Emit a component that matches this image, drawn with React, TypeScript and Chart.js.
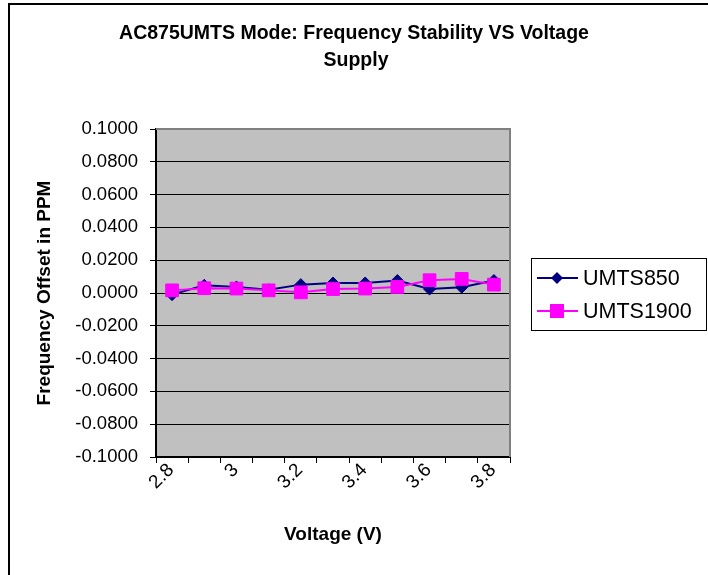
import React, { useEffect, useRef } from 'react';
import { Chart, registerables } from 'chart.js';

Chart.register(...registerables);

const voltages = ['2.8', '2.9', '3', '3.1', '3.2', '3.3', '3.4', '3.5', '3.6', '3.7', '3.8'];
const umts850 = [-0.001, 0.0047, 0.0037, 0.002, 0.0051, 0.0061, 0.0061, 0.0076, 0.0024, 0.0035, 0.0076];
const umts1900 = [0.0016, 0.0029, 0.0027, 0.0016, 0.0004, 0.0024, 0.0027, 0.0037, 0.0078, 0.0086, 0.0051];
const yMin = -0.1;
const yMax = 0.1;
const yStep = 0.02;
const titleLines = ['AC875UMTS Mode: Frequency Stability VS Voltage', 'Supply'];
const xTitle = 'Voltage (V)';
const yTitle = 'Frequency Offset in PPM';
const seriesNames = ['UMTS850', 'UMTS1900'];

const FONT = '"Liberation Sans", Arial, sans-serif';
const NAVY = '#000080';
const MAGENTA = '#FF00FF';

const decorPlugin = {
  id: 'decor',
  beforeDraw(chart: any) {
    const { ctx, chartArea: a, width, height } = chart;
    ctx.save();
    ctx.fillStyle = '#ffffff';
    ctx.fillRect(0, 0, width, height);
    ctx.strokeStyle = '#000000';
    ctx.lineWidth = 2;
    ctx.beginPath();
    ctx.moveTo(9, height);
    ctx.lineTo(9, 4);
    ctx.lineTo(width, 4);
    ctx.stroke();
    ctx.fillStyle = '#C0C0C0';
    ctx.fillRect(a.left, a.top, a.right - a.left, a.bottom - a.top);
    ctx.restore();
  },
  beforeDatasetsDraw(chart: any) {
    const { ctx, chartArea: a } = chart;
    ctx.save();
    ctx.strokeStyle = '#808080';
    ctx.lineWidth = 2;
    ctx.beginPath();
    ctx.moveTo(a.left, a.top);
    ctx.lineTo(a.right, a.top);
    ctx.lineTo(a.right, a.bottom);
    ctx.stroke();
    ctx.restore();
  },
  afterDraw(chart: any) {
    const { ctx, chartArea: a } = chart;
    ctx.save();
    ctx.fillStyle = '#000000';
    ctx.textAlign = 'center';
    ctx.textBaseline = 'middle';
    ctx.font = `bold 19.5px ${FONT}`;
    ctx.fillText(titleLines[0], 354, 34);
    ctx.fillText(titleLines[1], 356, 61);
    ctx.font = `bold 19px ${FONT}`;
    ctx.fillText(xTitle, (a.left + a.right) / 2, 535);
    ctx.save();
    ctx.translate(45, (a.top + a.bottom) / 2);
    ctx.rotate(-Math.PI / 2);
    ctx.fillText(yTitle, 0, 0);
    ctx.restore();

    const lx = 531.5, ly = 258.5, lw = 175, lh = 72;
    ctx.strokeStyle = '#000000';
    ctx.lineWidth = 1;
    ctx.strokeRect(lx, ly, lw, lh);
    const rows = [278, 311];
    const colors = [NAVY, MAGENTA];
    ctx.font = `21.5px ${FONT}`;
    ctx.textAlign = 'left';
    rows.forEach((y, i) => {
      ctx.strokeStyle = colors[i];
      ctx.lineWidth = 2;
      ctx.beginPath();
      ctx.moveTo(537, y);
      ctx.lineTo(578, y);
      ctx.stroke();
      ctx.fillStyle = colors[i];
      ctx.beginPath();
      if (i === 0) {
        ctx.moveTo(557, y - 6);
        ctx.lineTo(563, y);
        ctx.lineTo(557, y + 6);
        ctx.lineTo(551, y);
        ctx.closePath();
      } else {
        ctx.rect(550, y - 7, 14, 14);
      }
      ctx.fill();
      ctx.fillStyle = '#000000';
      ctx.fillText(seriesNames[i], 583, y + 1);
    });
    ctx.restore();
  },
};

export default function App() {
  const ref = useRef<HTMLCanvasElement | null>(null);

  useEffect(() => {
    if (!ref.current) return;
    const chart = new Chart(ref.current, {
      type: 'line',
      data: {
        labels: voltages,
        datasets: [
          {
            label: seriesNames[0],
            data: umts850,
            borderColor: NAVY,
            backgroundColor: NAVY,
            borderWidth: 2,
            pointStyle: 'rectRot',
            pointRadius: 6,
            pointBorderWidth: 1,
            pointBorderColor: NAVY,
            pointBackgroundColor: NAVY,
            tension: 0,
            order: 2,
          },
          {
            label: seriesNames[1],
            data: umts1900,
            borderColor: MAGENTA,
            backgroundColor: MAGENTA,
            borderWidth: 2,
            pointStyle: 'rect',
            pointRadius: 9,
            pointBorderWidth: 1,
            pointBorderColor: MAGENTA,
            pointBackgroundColor: MAGENTA,
            tension: 0,
            order: 1,
          },
        ],
      },
      options: {
        responsive: false,
        animation: false,
        devicePixelRatio: 1,
        layout: { padding: { left: 0, top: 129, right: 198, bottom: 0 } },
        plugins: {
          legend: { display: false },
          title: { display: false },
          tooltip: { enabled: false },
        },
        scales: {
          x: {
            type: 'category',
            offset: true,
            grid: {
              offset: true,
              drawOnChartArea: false,
              drawTicks: true,
              tickLength: 6,
              tickColor: '#000000',
              lineWidth: 1,
            },
            border: { display: true, color: '#000000', width: 2 },
            ticks: {
              autoSkip: false,
              maxRotation: 45,
              minRotation: 45,
              padding: -4,
              labelOffset: -1,
              color: '#000000',
              font: { family: FONT, size: 19 },
              callback: (_v: any, i: number) => (i % 2 === 0 ? voltages[i] : ''),
            },
            afterFit: (s: any) => {
              s.height = 575 - 457;
            },
          },
          y: {
            min: yMin,
            max: yMax,
            grid: {
              color: '#000000',
              lineWidth: 1,
              drawTicks: true,
              tickLength: 6,
              tickColor: '#000000',
            },
            border: { display: true, color: '#000000', width: 2 },
            ticks: {
              stepSize: yStep,
              padding: 12,
              color: '#000000',
              font: { family: FONT, size: 18.5 },
              callback: (v: any) => (Math.abs(v) < 1e-9 ? 0 : Number(v)).toFixed(4),
            },
            afterFit: (s: any) => {
              s.width = 156;
            },
          },
        },
      },
      plugins: [decorPlugin],
    });
    return () => chart.destroy();
  }, []);

  return (
    <div style={{ position: 'fixed', left: 0, top: 0, width: 708, height: 575, background: '#fff' }}>
      <canvas ref={ref} width={708} height={575} style={{ display: 'block', width: 708, height: 575 }} />
    </div>
  );
}
